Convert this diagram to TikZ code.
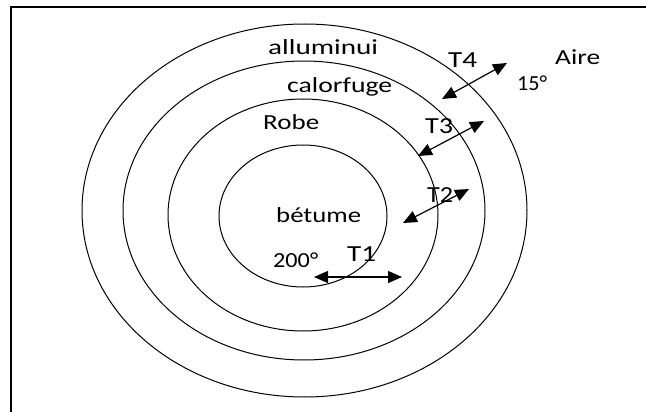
\documentclass[tikz,border=0pt]{standalone}
\usepackage{fontspec}
\setmainfont{Carlito}
\usepackage{graphicx}
\usetikzlibrary{arrows.meta}
\tikzset{
  ring/.style={line width=1pt},
  lbl/.style={anchor=base west, inner sep=0pt, font=\fontsize{21.5}{24}\selectfont},
  tlbl/.style={anchor=base west, inner sep=0pt, font=\fontsize{23}{25}\selectfont},
  dbl/.style={line width=1.2pt, {Triangle[length=14pt,width=12pt]}-{Triangle[length=14pt,width=12pt]}}
}
\newcommand\fitw[2]{\resizebox{#1pt}{\height}{#2}}
\begin{document}
\begin{tikzpicture}[x=1pt,y=-1pt]
\useasboundingbox (0,0) rectangle (646,412);
% frame
\draw[line width=1.5pt] (646,7) -- (11,7) -- (11,412);
% rings
\draw[ring] (304.5,210.5) ellipse [x radius=222.5pt, y radius=186.5pt];
\draw[ring] (304,210.5) ellipse [x radius=181pt, y radius=149.5pt];
\draw[ring] (303,215) ellipse [x radius=135pt, y radius=116pt];
\draw[ring] (303,216) ellipse [x radius=84pt, y radius=71pt];
% labels
\node[lbl] (alu) at (268,55) {\fitw{110}{alluminui}};
\node[lbl] (cal) at (287,93) {\fitw{105}{calorfuge}};
\node[lbl] (rob) at (263,130) {\fitw{56}{Robe}};
\node[lbl] (bet) at (276,222) {\fitw{85}{bétume}};
\node[lbl] (t200) at (273,267) {\fitw{45}{200°}};
\node[lbl] (aire) at (555,65) {\fitw{45}{Aire}};
\node[lbl] (t15) at (517,91) {\fitw{30}{15°}};
\node[tlbl] (T1) at (347,261) {\fitw{29}{T1}};
\node[tlbl] (T2) at (427,202) {\fitw{26}{T2}};
\node[tlbl] (T3) at (425,133) {\fitw{28}{T3}};
\node[tlbl] (T4) at (448,68) {\fitw{29}{T4}};
% arrows
\coordinate (a1) at (314,277);
\coordinate (b1) at (402,277);
\coordinate (a2) at (403,223);
\coordinate (b2) at (469,189);
\coordinate (a3) at (418,156);
\coordinate (b3) at (484,121);
\coordinate (a4) at (442,99);
\coordinate (b4) at (507,63);
\draw[dbl] (a1) -- (b1);
\draw[dbl] (a2) -- (b2);
\draw[dbl] (a3) -- (b3);
\draw[dbl] (a4) -- (b4);
\end{tikzpicture}
\end{document}
